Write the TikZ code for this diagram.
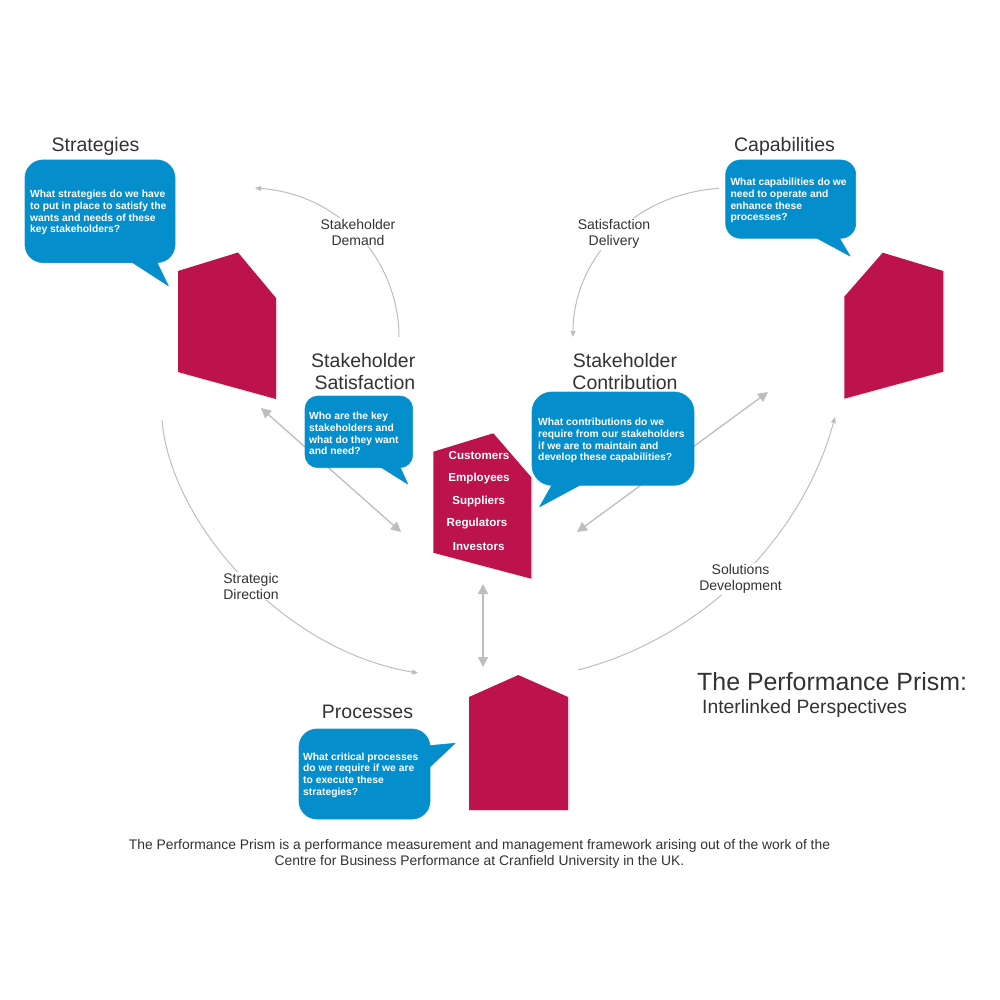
\documentclass[tikz,border=0pt]{standalone}
\usepackage{fontspec}
\setmainfont{Liberation Sans}
\usetikzlibrary{arrows.meta}
\definecolor{prismred}{RGB}{188,19,77}
\definecolor{bubble}{RGB}{5,142,204}
\definecolor{bubbleedge}{RGB}{40,160,215}
\definecolor{ink}{RGB}{51,51,51}
\definecolor{wire}{RGB}{190,190,190}
\tikzset{
  x=1pt,y=-1pt,
  prismface/.style={fill=prismred,draw=none},
  prismshade/.style={fill=black!6,draw=none},
  bubbleline/.style={draw=bubbleedge,line width=0.8pt,line join=round},
  bubblefill/.style={fill=bubble,draw=none},
  asktext/.style={text=white,font=\bfseries\fontsize{10.3}{11.7}\selectfont,align=left,anchor=west,inner sep=0pt},
  heading/.style={text=ink,font=\fontsize{19.5}{22}\selectfont,inner sep=0pt},
  flowlabel/.style={text=ink,font=\fontsize{14}{16}\selectfont,align=center,fill=white,inner sep=1pt},
  member/.style={text=white,font=\bfseries\fontsize{11.6}{14}\selectfont,inner sep=0pt},
  arcflow/.style={draw=wire,line width=1pt,-{Triangle[length=6pt,width=5pt]}},
  linkflow/.style={draw=wire,line width=1.3pt,{Triangle[length=10pt,width=10pt]}-{Triangle[length=10pt,width=10pt]}},
}
% #1 corner, #2 opposite corner, #3 radius, #4 tail polygon
\newcommand{\askbubble}[4]{%
  \path[bubbleline,rounded corners=#3pt] #1 rectangle #2;
  \path[bubbleline] #4 -- cycle;
  \path[bubblefill,rounded corners=#3pt] #1 rectangle #2;
  \path[bubblefill] #4 -- cycle;
}
\begin{document}
\begin{tikzpicture}
\useasboundingbox[fill=white] (0,0) rectangle (1000,1000);
% anchors of connectors
\coordinate (demandA) at (399,337);
\coordinate (demandB) at (255,188);
\coordinate (deliveryA) at (719,188.3);
\coordinate (deliveryB) at (573,337);
\coordinate (directionA) at (162,420);
\coordinate (directionB) at (418,673);
\coordinate (solutionsA) at (578,670);
\coordinate (solutionsB) at (835,417);
\coordinate (leftA) at (261,408);
\coordinate (leftB) at (401,532);
\coordinate (rightA) at (768,392);
\coordinate (rightB) at (577,532);
\coordinate (midA) at (483,584);
\coordinate (midB) at (483,667);
% connectors
\draw[arcflow] (demandA) .. controls (399,265) and (345,195) .. (demandB);
\draw[arcflow] (deliveryA) .. controls (627,195) and (573,265) .. (deliveryB);
\draw[arcflow] (directionA) .. controls (170,520) and (280,650) .. (directionB);
\draw[arcflow] (solutionsA) .. controls (695,640) and (800,545) .. (solutionsB);
\draw[linkflow] (leftA) -- (leftB);
\draw[linkflow] (rightA) -- (rightB);
\draw[linkflow] (midA) -- (midB);
% flow labels
\node[flowlabel] (lblDemand) at (358,232) {Stakeholder\\Demand};
\node[flowlabel] (lblDelivery) at (614,234) {Satisfaction\\Delivery};
\node[flowlabel] (lblDirection) at (251,586) {Strategic\\Direction};
\node[flowlabel] (lblSolutions) at (740.5,579) {Solutions\\Development};
% prisms
\fill[prismshade] (179.5,272.5) -- (239.5,254) -- (277.5,299.5) -- (277.5,400.5) -- (179.5,373.5) -- cycle;
\fill[prismface] (178,271) -- (238,252.5) -- (276,298) -- (276,399) -- (178,372) -- cycle;
\fill[prismshade] (845.5,298) -- (884,254) -- (945,272.5) -- (945,373) -- (845.5,400) -- cycle;
\fill[prismface] (844.3,296.7) -- (882.7,252.7) -- (943.3,271) -- (943.3,371.7) -- (844.3,398.7) -- cycle;
\fill[prismshade] (434.8,453.2) -- (494.8,434.8) -- (532.8,478.8) -- (532.8,580.2) -- (434.8,554.2) -- cycle;
\fill[prismface] (433.3,451.7) -- (493.3,433.3) -- (531.3,477.3) -- (531.3,578.7) -- (433.3,552.7) -- cycle;
\fill[prismshade] (470.5,698.5) -- (519.8,676.5) -- (569.5,698.5) -- (569.5,811.5) -- (470.5,811.5) -- cycle;
\fill[prismface] (469,697) -- (518.3,675) -- (568,697) -- (568,810) -- (469,810) -- cycle;
% bubbles
\askbubble{(25,160)}{(175,262.5)}{18}{(131.7,262)-- (168.3,285.7) -- (156.7,262)}
\askbubble{(725.7,160)}{(855.7,238.3)}{15}{(816.7,238) -- (850,256) -- (839.3,238)}
\askbubble{(305,396)}{(412.7,467.7)}{13}{(380.7,467) -- (407.7,484) -- (400,467)}
\askbubble{(532,392)}{(694,485.3)}{20}{(552,485) -- (539.7,506.7) -- (580,485)}
\askbubble{(299,729)}{(430,819)}{18}{(429.5,745.7) -- (455,743.3) -- (429.5,767.3)}
% bubble texts
\node[asktext] (askStrategies) at (30,212.5) {What strategies do we have\\to put in place to satisfy the\\wants and needs of these\\key stakeholders?};
\node[asktext] (askCapabilities) at (730.3,200.5) {What capabilities do we\\need to operate and\\enhance these\\processes?};
\node[asktext] (askSatisfaction) at (309,433.5) {Who are the key\\stakeholders and\\what do they want\\and need?};
\node[asktext] (askContribution) at (538,440.5) {What contributions do we\\require from our stakeholders\\if we are to maintain and\\develop these capabilities?};
\node[asktext] (askProcesses) at (303,775) {What critical processes\\do we require if we are\\to execute these\\strategies?};
% headings
\node[heading] (hStrategies) at (95.5,146) {Strategies};
\node[heading] (hCapabilities) at (784.5,146) {Capabilities};
\node[heading,align=right,anchor=east] (hSatisfaction) at (415.5,371.5) {Stakeholder\\Satisfaction};
\node[heading,align=center] (hContribution) at (625,371.5) {Stakeholder\\Contribution};
\node[heading] (hProcesses) at (367.5,712) {Processes};
% stakeholders list
\node[member] (mCustomers) at (479,456) {Customers};
\node[member] (mEmployees) at (479,478.7) {Employees};
\node[member] (mSuppliers) at (478.7,501.2) {Suppliers};
\node[member] (mRegulators) at (477,523.2) {Regulators};
\node[member] (mInvestors) at (478.7,546.7) {Investors};
% titles
\node[text=ink,font=\fontsize{24.9}{28}\selectfont,inner sep=0pt,anchor=west] (title) at (697,681.5) {The Performance Prism:};
\node[text=ink,font=\fontsize{19.3}{22}\selectfont,inner sep=0pt,anchor=west] (subtitle) at (702,709) {Interlinked Perspectives};
\node[text=ink,font=\fontsize{13.88}{16}\selectfont,align=center,inner sep=0pt] (caption) at (479.5,854) {The Performance Prism is a performance measurement and management framework arising out of the work of the\\Centre for Business Performance at Cranfield University in the UK.};
\end{tikzpicture}
\end{document}
